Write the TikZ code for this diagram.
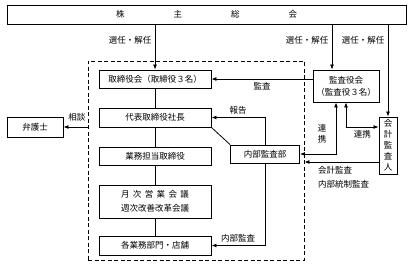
\documentclass[tikz,border=0pt]{standalone}
\usepackage{fontspec}
\newfontfamily\jpfont{Noto Sans CJK JP}
\usetikzlibrary{
  arrows.meta,
  calc
}
\tikzset{
  orgbox/.style={draw,line width=0.9pt,inner sep=0pt,minimum height=18pt,minimum width=112pt,align=center},
  dashframe/.style={draw,dashed,line width=0.9pt,dash pattern=on 4pt off 2.5pt,inner sep=0pt},
  orgline/.style={line width=0.8pt},
  arr/.style={-{Latex[length=5pt,width=4pt]},line width=0.8pt},
  biarr/.style={{Latex[length=5pt,width=4pt]}-{Latex[length=5pt,width=4pt]},line width=0.8pt}
}

\begin{document}
\begin{tikzpicture}[x=1pt,y=-1pt,font=\jpfont\fontsize{8.5}{11}\selectfont]
\useasboundingbox (0,0) rectangle (412,267);
\node[orgbox, minimum width=399pt, minimum height=19pt] (gm) at (206.5,14.5) {株\hspace{49pt}主\hspace{49pt}総\hspace{49pt}会};
\node[dashframe, minimum width=216pt, minimum height=199pt] (corp) at (196,160.5) {};
\node[orgbox] (bod) at (155,79) {取締役会（取締役３名）};
\node[orgbox, minimum height=19pt] (ceo) at (155,117.5) {代表取締役社長};
\node[orgbox] (exec) at (155,156) {業務担当取締役};
\node[orgbox, minimum height=33pt] (mtg) at (155,201.5) {月\hspace{.4em}次\hspace{.4em}営\hspace{.4em}業\hspace{.4em}会\hspace{.4em}議\\[3pt]週次改善改革会議};
\node[orgbox, minimum height=19pt] (dept) at (155,245.5) {各業務部門・店舗};
\node[orgbox, minimum width=56pt, minimum height=20pt] (law) at (35,127) {弁護士};
\node[orgbox, minimum width=66pt, minimum height=32pt] (aud) at (346,86) {監査役会\\[1pt]（監査役３名）};
\node[orgbox, minimum width=69pt] (ia) at (265,154) {内部監査部};
\node[orgbox, minimum width=18pt, minimum height=57pt] (acc) at (388,145.5) {会\\計\\監\\査\\人};
% election
\coordinate (audin) at ([xshift=-14pt]aud.north);
\draw[arr] (gm.south -| bod) -- (bod) node[pos=0.35,left]{選任・解任};
\draw[arr] (gm.south -| audin) -- (audin) node[pos=0.35,left]{選任・解任};
\draw[arr] (gm.south -| acc.north) -- (acc.north) node[pos=0.17,left]{選任・解任};
% company
\draw[arr] (aud.west |- bod) -- (bod.east) node[midway,below]{監査};
\draw[orgline] (bod) -- (ceo);
\draw[orgline] (ceo) -- (exec);
\draw[orgline] (exec) -- (mtg);
\draw[orgline] (mtg) -- (dept);
\draw[arr] (corp.west |- law) -- (law) node[pos=0.44,above,yshift=2pt]{相談};
\draw[arr] (ia.north) |- (ceo.east) node[pos=0.75,above]{報告};
\draw[orgline] (ceo.south east) -- (ia.north west);
\draw[arr] (ia.south) |- (dept.east) node[pos=0.75,above]{内部監査};
% audit links
\draw[biarr] ([xshift=-10pt]aud.south) |- (ia.east) node[pos=0.3,left,xshift=-6pt,align=center]{連\\携};
\draw[biarr] (aud.south) |- ([yshift=18.5pt]acc.west) node[pos=0.75,below]{連携};
\coordinate (accout) at ([yshift=-16.5pt]acc.west);
\draw[arr] (accout) -- (corp.east |- accout) node[pos=1,anchor=north west,xshift=10pt,yshift=-1pt,align=left]{会計監査\\[3pt]内部統制監査};
\end{tikzpicture}
\end{document}
